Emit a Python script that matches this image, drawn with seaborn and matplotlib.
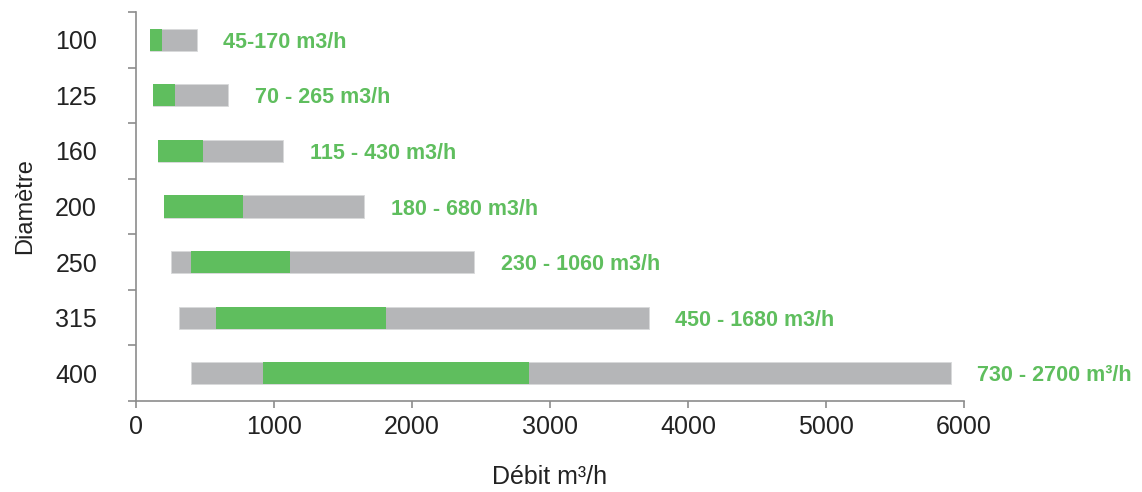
import matplotlib
matplotlib.use("Agg")
import matplotlib.pyplot as plt
import seaborn as sns
import numpy as np
import pandas as pd

# ---- data ----
diametres = ["100", "125", "160", "200", "250", "315", "400"]
bar_start = [101, 126, 162, 203, 251, 314, 401]
bar_end = [442, 669, 1067, 1654, 2451, 3717, 5903]
green_start = [101, 126, 162, 203, 401, 580, 920]
green_end = [190, 283, 488, 773, 1114, 1809, 2848]
range_labels = ["45-170 m3/h", "70 - 265 m3/h", "115 - 430 m3/h", "180 - 680 m3/h",
                "230 - 1060 m3/h", "450 - 1680 m3/h", "730 - 2700 m\u00b3/h"]
x_ticks = [0, 1000, 2000, 3000, 4000, 5000, 6000]

GREEN = "#5FBE5E"
GRAY = "#B5B6B8"
AXC = "#8C8C8C"

sns.set_theme(style="white")
FONT = ["Liberation Sans", "DejaVu Sans"]
plt.rcParams["font.family"] = FONT

df = pd.DataFrame({
    "diam": diametres,
    "gray_w": np.array(bar_end) - np.array(bar_start),
    "gray_l": bar_start,
    "green_w": np.array(green_end) - np.array(green_start),
    "green_l": green_start,
})

fig = plt.figure(figsize=(11.42, 4.92), dpi=100)
ax = fig.add_axes([136 / 1142, 1 - 401 / 492, 828 / 1142, 389 / 492])

ypos = np.arange(len(diametres))
ax.barh(ypos, df["gray_w"], left=df["gray_l"], height=0.4, color=GRAY,
        edgecolor="#d8d9da", linewidth=0.6, zorder=2)
ax.barh(ypos, df["green_w"], left=df["green_l"], height=0.4, color=GREEN,
        edgecolor="none", zorder=3)

for y, xe, lab in zip(ypos, bar_end, range_labels):
    ax.annotate(lab, xy=(xe, y), xytext=(19, 0), textcoords="offset points",
                ha="left", va="center_baseline", color=GREEN, fontsize=15.5,
                fontweight="bold", family=FONT, annotation_clip=False)

ax.set_xlim(0, 6000)
ax.set_ylim(6.5, -0.5)
ax.set_xticks(x_ticks)
ax.set_xticklabels([str(t) for t in x_ticks])
ax.set_yticks(ypos)
ax.set_yticklabels(diametres)
ax.set_yticks(np.arange(-0.5, 7.0, 1.0), minor=True)

for side in ["top", "right"]:
    ax.spines[side].set_visible(False)
for side in ["left", "bottom"]:
    ax.spines[side].set_color(AXC)
    ax.spines[side].set_linewidth(1.2)

ax.tick_params(axis="x", which="major", direction="out", length=5, width=1.2,
               color=AXC, labelsize=18, labelcolor="#222222", pad=5, bottom=True)
ax.tick_params(axis="y", which="major", length=0, labelsize=18,
               labelcolor="#222222", pad=28)
ax.tick_params(axis="y", which="minor", direction="out", length=6, width=1.2,
               color=AXC, left=True)

ax.set_xlabel("D\u00e9bit m\u00b3/h", fontsize=18, color="#222222", labelpad=19)
ax.set_ylabel("Diam\u00e8tre", fontsize=17, color="#222222", labelpad=14)
ax.grid(False)

fig.savefig("out.png", dpi=100)
